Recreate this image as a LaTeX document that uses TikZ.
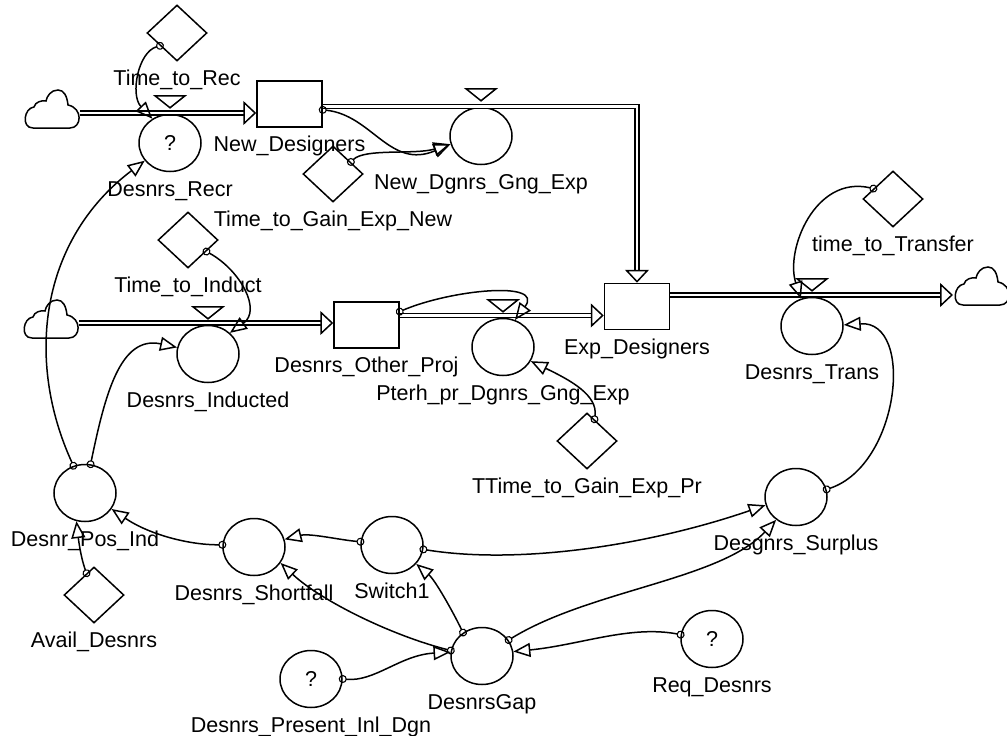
\documentclass[tikz,border=0pt]{standalone}
\usepackage{fontspec}
\setmainfont{Liberation Sans}
\usetikzlibrary{arrows.meta,positioning,shapes.geometric}
\tikzset{
  stockbox/.style={
    rectangle,
    draw,
    line width=1.5pt,
    inner sep=0pt,
    minimum width=65pt,
    minimum height=46pt
  },
  auxcircle/.style={
    ellipse,
    draw,
    line width=1.5pt,
    inner sep=0pt,
    minimum width=62pt,
    minimum height=57pt,
    font=\fontsize{21.5}{25}\selectfont
  },
  constdia/.style={
    diamond,
    draw,
    line width=1.5pt,
    inner sep=0pt,
    minimum width=60pt,
    minimum height=56pt
  },
  valvetri/.style={
    isosceles triangle,
    isosceles triangle stretches,
    shape border rotate=-90,
    draw,
    line width=1.5pt,
    inner sep=0pt,
    minimum width=30pt,
    minimum height=12pt
  },
  lab/.style={
    inner sep=0pt,
    text height=15pt,
    text depth=5pt,
    font=\fontsize{21.5}{25}\selectfont
  },
  flowpipe/.style={
    double,
    double distance=2.5pt,
    line width=1.5pt,
    -{Triangle[open,length=13pt,width=24pt,line width=1.5pt]}
  },
  infl/.style={
    line width=1.5pt,
    shorten <=-4pt,
    {Circle[open,length=8pt,width=8pt,line width=1.1pt]}-{Triangle[open,length=17pt,width=14pt,line width=1.5pt]}
  },
  cloudsym/.pic={
    \draw[line width=1.5pt] (-19,19) -- (18,19)
      .. controls (30,19) and (31,-1) .. (16,-4)
      .. controls (15,-13) and (12,-19) .. (6,-19)
      .. controls (-1,-19) and (-5,-13) .. (-6,-8)
      .. controls (-10,-9) and (-17,-7) .. (-18,-2)
      .. controls (-28,-1) and (-31,19) .. (-19,19);
    \coordinate (-e) at (28,4);
    \coordinate (-w) at (-29,9);
  }
}
\begin{document}
\begin{tikzpicture}[x=1pt,y=-1pt,node distance=9pt]
  \useasboundingbox (0,0) rectangle (1007,736);
  \pic (srcrecr) at (52,109) {cloudsym};
  \pic (srcind) at (51,319) {cloudsym};
  \pic (sinktrans) at (982,286) {cloudsym};
  \node[stockbox] (newstock) at (289.5,104) {};
  \node[stockbox] (otherstock) at (366.5,325) {};
  \node[stockbox] (expstock) at (637,306.5) {};
  \node[auxcircle] (recr) at (170,143) {?};
  \node[auxcircle] (gngnew) at (481,136) {};
  \node[auxcircle] (inducted) at (208,354) {};
  \node[auxcircle] (gngother) at (503,347) {};
  \node[auxcircle] (trans) at (812,326) {};
  \node[auxcircle] (surplus) at (796,497) {};
  \node[auxcircle] (posind) at (85,493) {};
  \node[auxcircle] (shortfall) at (254,547) {};
  \node[auxcircle] (switchone) at (392,545) {};
  \node[auxcircle] (gap) at (482,656) {};
  \node[auxcircle] (present) at (311,679) {?};
  \node[auxcircle] (req) at (712,639) {?};
  \node[constdia] (ttrec) at (177,33) {};
  \node[constdia] (ttgainnew) at (333,174) {};
  \node[constdia] (ttinduct) at (188,240) {};
  \node[constdia] (tttransfer) at (893,199) {};
  \node[constdia] (ttgainpr) at (587,441) {};
  \node[constdia] (avail) at (94,595) {};
  \node[valvetri, above=4pt of recr] (vrecr) {};
  \node[valvetri, above=4pt of gngnew] (vgngnew) {};
  \node[valvetri, above=4pt of inducted] (vinducted) {};
  \node[valvetri, above=4pt of gngother] (vgngother) {};
  \node[valvetri, above=4pt of trans] (vtrans) {};
  \node[lab, below=of ttrec] (ttreclab) {Time\_to\_Rec};
  \node[lab, below=of newstock] (newstocklab) {New\_Designers};
  \node[lab, below=of recr] (recrlab) {Desnrs\_Recr};
  \node[lab, below=of gngnew] (gngnewlab) {New\_Dgnrs\_Gng\_Exp};
  \node[lab, below=of ttgainnew] (ttgainnewlab) {Time\_to\_Gain\_Exp\_New};
  \node[lab, below=of ttinduct] (ttinductlab) {Time\_to\_Induct};
  \node[lab, below=of inducted] (inductedlab) {Desnrs\_Inducted};
  \node[lab, below=of otherstock] (otherstocklab) {Desnrs\_Other\_Proj};
  \node[lab, below=of gngother] (gngotherlab) {Pterh\_pr\_Dgnrs\_Gng\_Exp};
  \node[lab, below=of expstock] (expstocklab) {Exp\_Designers};
  \node[lab, below=of tttransfer] (tttransferlab) {time\_to\_Transfer};
  \node[lab, below=of trans] (translab) {Desnrs\_Trans};
  \node[lab, below=of ttgainpr] (ttgainprlab) {TTime\_to\_Gain\_Exp\_Pr};
  \node[lab, below=of surplus] (surpluslab) {Desgnrs\_Surplus};
  \node[lab, below=of posind] (posindlab) {Desnr\_Pos\_Ind};
  \node[lab, below=of shortfall] (shortfalllab) {Desnrs\_Shortfall};
  \node[lab, below=of switchone] (switchonelab) {Switch1};
  \node[lab, below=of avail] (availlab) {Avail\_Desnrs};
  \node[lab, below=of gap] (gaplab) {DesnrsGap};
  \node[lab, below=of present] (presentlab) {Desnrs\_Present\_Inl\_Dgn};
  \node[lab, below=of req] (reqlab) {Req\_Desnrs};
  \draw[flowpipe] (srcrecr-e) -- (newstock.west |- srcrecr-e);
  \draw[flowpipe] (newstock.-4) -| (expstock.north);
  \draw[flowpipe] (srcind-e) -- (otherstock.west |- srcind-e);
  \draw[flowpipe] (otherstock.16) -- (otherstock.16 -| expstock.west);
  \draw[flowpipe] (expstock.east |- sinktrans-w) -- (sinktrans-w);
  \draw[infl] (ttrec.217) .. controls (138,52) and (130,95) .. (recr.126);
  \draw[infl] (newstock.-10) .. controls (372,115) and (390,170) .. (gngnew.195);
  \draw[infl] (ttgainnew.34) .. controls (365,148) and (415,155) .. (gngnew.195);
  \draw[infl] (ttinduct.-32) .. controls (240,270) and (262,310) .. (inducted.44);
  \draw[infl] (posind.113) .. controls (25,360) and (40,240) .. (recr.215);
  \draw[infl] (posind.79) .. controls (105,395) and (120,335) .. (inducted.168);
  \draw[infl] (shortfall.176) .. controls (190,545) and (150,535) .. (posind.-31);
  \draw[infl] (switchone.174) .. controls (340,540) and (310,533) .. (shortfall.14);
  \draw[infl] (switchone.-8) .. controls (520,565) and (650,545) .. (surplus.195);
  \draw[infl] (gap.31) .. controls (590,590) and (720,580) .. (surplus.229);
  \draw[infl] (gap.170) .. controls (390,635) and (320,600) .. (shortfall.-31);
  \draw[infl] (gap.129) .. controls (452,610) and (435,580) .. (switchone.-38);
  \draw[infl] (present.0) .. controls (375,682) and (400,655) .. (gap.173);
  \draw[infl] (req.172) .. controls (630,625) and (580,645) .. (gap.8);
  \draw[infl] (avail.109) .. controls (80,555) and (78,535) .. (posind.253);
  \draw[infl] (otherstock.22) .. controls (450,290) and (545,280) .. (gngother.66);
  \draw[infl] (ttgainpr.71) .. controls (598,395) and (570,380) .. (gngother.-27);
  \draw[infl] (tttransfer.152) .. controls (815,175) and (785,250) .. (trans.112);
  \draw[infl] (surplus.14) .. controls (900,465) and (915,320) .. (trans.2);
\end{tikzpicture}
\end{document}
